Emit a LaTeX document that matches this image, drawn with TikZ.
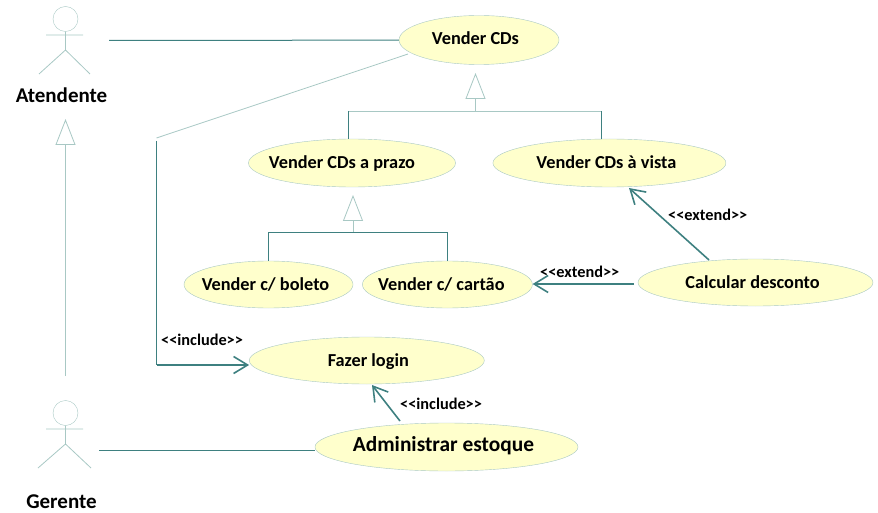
\documentclass[tikz,border=0pt]{standalone}
\usepackage{fontspec}
\setmainfont{Carlito}
\usetikzlibrary{arrows.meta,positioning,shapes.geometric}
\definecolor{ucfill}{RGB}{255,255,204}
\definecolor{ucline}{RGB}{168,200,196}
\definecolor{tealline}{RGB}{62,128,128}
\newcommand{\incl}{{<}{<}include{>}{>}}
\newcommand{\extd}{{<}{<}extend{>}{>}}
\begin{document}
\begin{tikzpicture}[x=1pt,y=-1pt,
  usecase/.style={draw=ucline,fill=ucfill,ellipse,inner sep=0pt,text height=12pt,text depth=0pt,font=\fontsize{18.3}{20}\selectfont\bfseries},
  stereo/.style={font=\fontsize{16.3}{18}\selectfont\bfseries,inner sep=0pt},
  actorname/.style={font=\fontsize{21}{24}\selectfont\bfseries,inner sep=0pt},
  thin line/.style={draw=ucline,line width=.8pt},
  assoc/.style={draw=tealline,line width=1pt},
  dep/.style={draw=tealline,line width=1.6pt,-{Straight Barb[length=14pt,width=17pt,line width=1.6pt]}},
  gen/.style={draw=ucline,line width=.8pt,-{Triangle[open,fill=white,length=26pt,width=20pt,line width=.8pt]}}]
\useasboundingbox (0,0) rectangle (878,513);
\node[usecase,text depth=2pt,minimum width=160pt,minimum height=49pt] (vender) at (479,40) {\makebox[0pt]{Vender CDs\hspace*{7pt}}};
\node[usecase,minimum width=207pt,minimum height=48pt] (prazo) at (352,163) {\makebox[0pt]{Vender CDs a prazo\hspace*{20pt}}};
\node[usecase,minimum width=233pt,minimum height=48pt,right=37pt of prazo] (vista) {\makebox[0pt]{Vender CDs à vista\hspace*{6pt}}};
\node[usecase,minimum width=169pt,minimum height=47pt] (boleto) at (268.5,284.5) {\makebox[0pt]{Vender c/ boleto\hspace*{6pt}}};
\node[usecase,minimum width=170pt,minimum height=47pt,right=9pt of boleto] (cartao) {\makebox[0pt]{Vender c/ cartão\hspace*{12pt}}};
\node[usecase,minimum width=235pt,minimum height=47pt] (desconto) at (755.5,282.5) {\makebox[0pt]{Calcular desconto\hspace*{6pt}}};
\node[usecase,minimum width=235pt,minimum height=47pt] (login) at (366.8,360.5) {\makebox[0pt]{\hspace*{3pt}Fazer login}};
\node[usecase,text depth=4pt,minimum width=263pt,minimum height=48pt,font=\fontsize{21.4}{24}\selectfont\bfseries] (estoque) at (446.5,447) {\makebox[0pt]{Administrar estoque\hspace*{6pt}}};
% actors
\node[draw=ucline,circle,minimum size=25pt,inner sep=0pt] (atHead) at (65.5,19) {};
\node[draw=ucline,circle,minimum size=25pt,inner sep=0pt] (geHead) at (65.5,413) {};
\coordinate (atHip) at (65.5,50);
\coordinate (geHip) at (65.5,444);
\draw[thin line] (atHead)--(atHip) (46,35)--(83,35) (atHip)--(39,74) (atHip)--(90,74);
\draw[thin line] (geHead)--(geHip) (46,429)--(83,429) (geHip)--(38,468) (geHip)--(91,468);
\node[actorname] (atendente) at (61.5,95) {Atendente};
\node[actorname] (gerente) at (61.5,502) {Gerente};
% associations
\coordinate (atEnd) at (109,40.5);
\coordinate (geEnd) at (99,450.5);
\coordinate (venderEnd) at (408,54);
\coordinate (bendTop) at (156.5,138);
\coordinate (lineTop) at (156.5,141);
\coordinate (bendBot) at (156.5,365);
\draw[assoc] (atEnd)--(vender);
\draw[assoc] (geEnd)--(estoque.west |- geEnd);
\draw[thin line] (bendTop)--(venderEnd);
\draw[assoc] (lineTop)--(bendBot);
\draw[dep] (bendBot)--(login.west |- bendBot);
\node[stereo,anchor=west] (inc1) at (161,340) {\incl};
\coordinate (estFrom) at (400,421);
\coordinate (loginTo) at (372,385);
\draw[dep] (estFrom)--(loginTo);
\node[stereo,anchor=west] (inc2) at (400,404) {\incl};
\coordinate (desFrom) at (709,260);
\coordinate (vistaTo) at (629,188);
\draw[dep] (desFrom)--(vistaTo);
\node[stereo,anchor=west] (ext1) at (668,215) {\extd};
\coordinate (desLeft) at (634,284);
\draw[dep] (desLeft)--(cartao.east |- desLeft);
\node[stereo,anchor=west] (ext2) at (540,272) {\extd};
% generalizations
\coordinate (topJoin) at (475.5,111);
\coordinate (topTip) at (475.5,73);
\coordinate (prazoUp) at (348.5,111);
\coordinate (vistaUp) at (601.5,111);
\draw[gen] (topJoin)--(topTip);
\draw[thin line] (prazoUp)--(vistaUp);
\draw[assoc] (prazoUp)--(prazoUp |- prazo.north);
\draw[assoc] (vistaUp)--(vistaUp |- vista.north);
\coordinate (midJoin) at (353,233);
\coordinate (midTip) at (353,195);
\coordinate (boletoUp) at (268.5,233);
\coordinate (cartaoUp) at (447.5,233);
\draw[gen] (midJoin)--(midTip);
\draw[assoc] (boleto.north)--(boletoUp)--(cartaoUp)--(cartaoUp |- cartao.north);
\coordinate (actFrom) at (65.5,376);
\coordinate (actTip) at (65.5,119);
\draw[gen] (actFrom)--(actTip);
\end{tikzpicture}
\end{document}
